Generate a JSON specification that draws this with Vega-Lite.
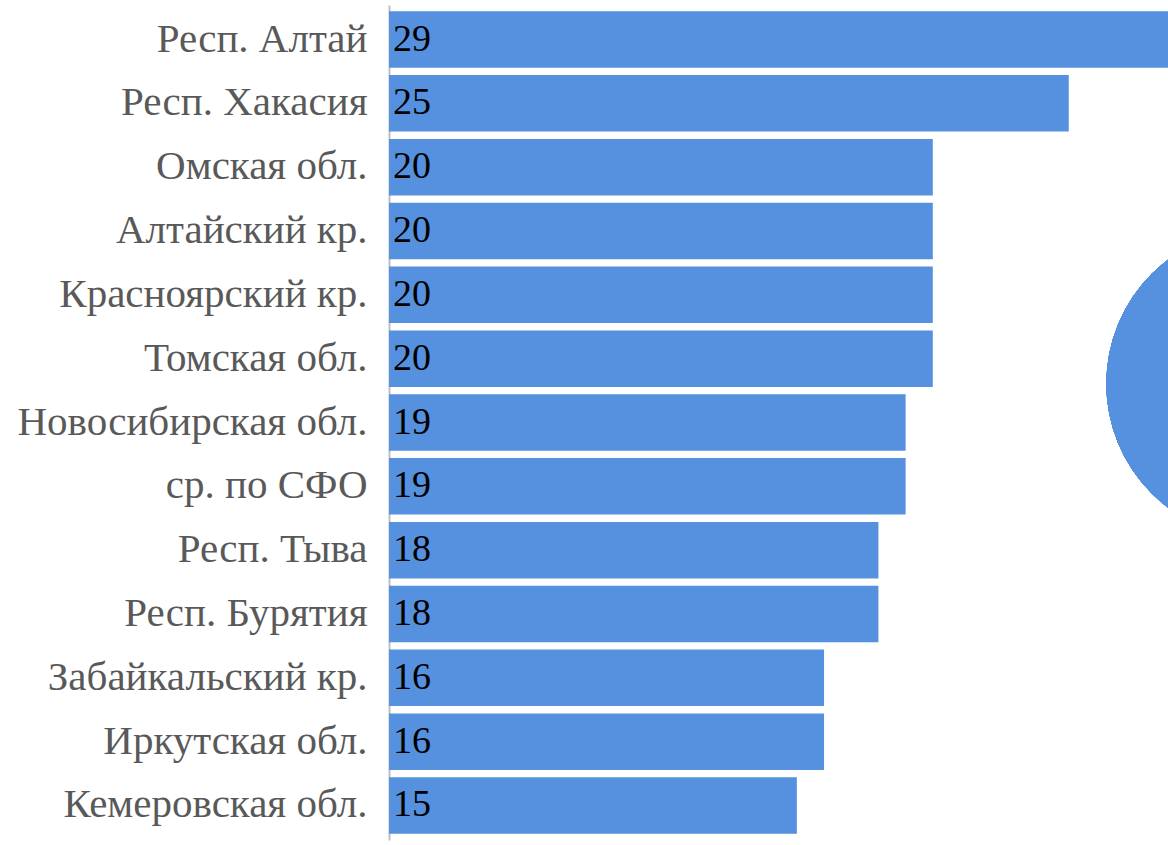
{
  "$schema": "https://vega.github.io/schema/vega-lite/v6.json",
  "width": 779,
  "height": 835,
  "autosize": {"type": "none"},
  "padding": {"left": 389, "top": 5, "right": 0, "bottom": 5},
  "background": "white",
  "config": {"view": {"stroke": null}},
  "data": {"values": [
    {"region": "Респ. Алтай", "value": 29},
    {"region": "Респ. Хакасия", "value": 25},
    {"region": "Омская обл.", "value": 20},
    {"region": "Алтайский кр.", "value": 20},
    {"region": "Красноярский кр.", "value": 20},
    {"region": "Томская обл.", "value": 20},
    {"region": "Новосибирская обл.", "value": 19},
    {"region": "ср. по СФО", "value": 19},
    {"region": "Респ. Тыва", "value": 18},
    {"region": "Респ. Бурятия", "value": 18},
    {"region": "Забайкальский кр.", "value": 16},
    {"region": "Иркутская обл.", "value": 16},
    {"region": "Кемеровская обл.", "value": 15}
  ]},
  "encoding": {
    "y": {"field": "region", "type": "nominal", "sort": null,
      "scale": {"paddingInner": 0.115, "paddingOuter": 0.098},
      "axis": {"title": null, "ticks": false, "labelFont": "Liberation Serif", "labelFontSize": 41, "labelColor": "#595959", "labelPadding": 22, "domainColor": "#BFBFBF", "domainWidth": 2, "labelLimit": 500}}
  },
  "layer": [
    {
      "mark": {"type": "bar", "color": "#5591DE", "clip": true},
      "encoding": {
        "x": {"field": "value", "type": "quantitative", "scale": {"domain": [0, 28.65], "nice": false, "zero": true}, "axis": null}
      }
    },
    {
      "mark": {"type": "text", "align": "left", "baseline": "middle", "dx": 4, "font": "Liberation Serif", "fontSize": 38, "color": "#000000"},
      "encoding": {
        "x": {"datum": 0, "type": "quantitative"},
        "text": {"field": "value", "type": "quantitative"}
      }
    },
    {
      "mark": {"type": "circle", "color": "#5591DE", "opacity": 1, "size": 96700, "clip": true, "yOffset": 25},
      "encoding": {
        "x": {"datum": 32.1, "type": "quantitative"},
        "y": {"datum": "Томская обл.", "type": "nominal"}
      }
    }
  ]
}
